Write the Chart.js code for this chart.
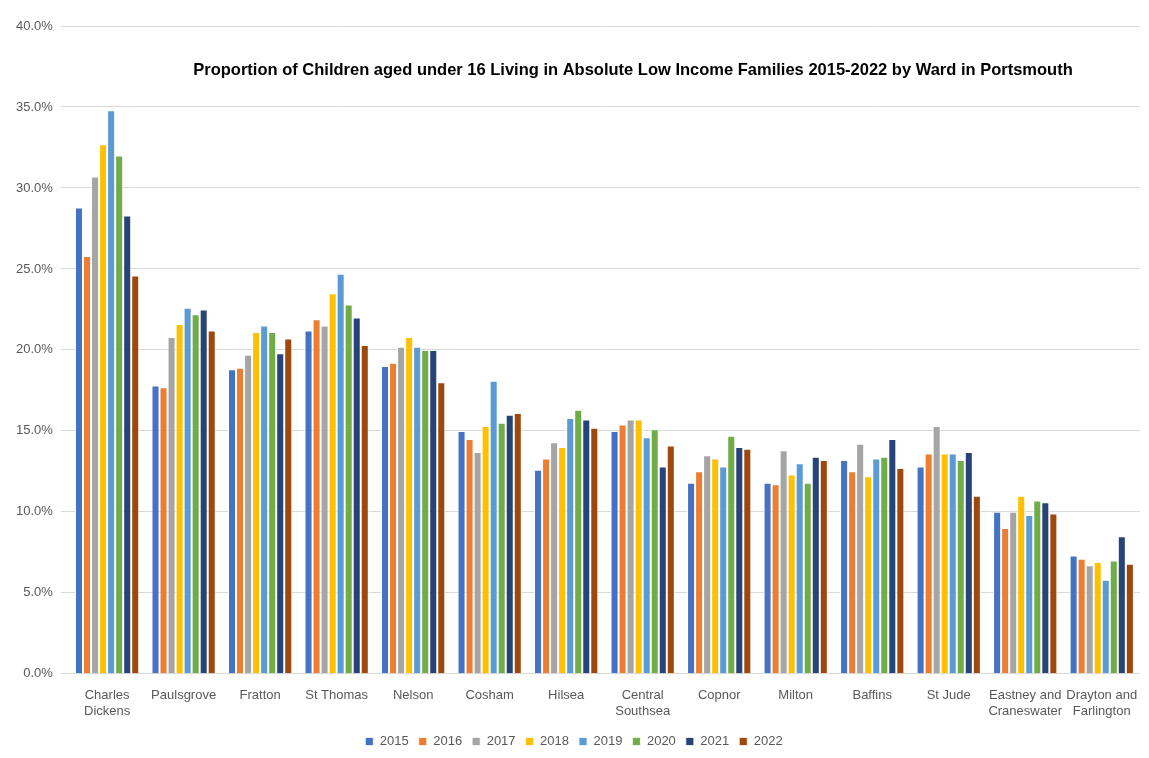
<!DOCTYPE html>
<html>
<head>
<meta charset="utf-8">
<script src="https://cdn.jsdelivr.net/npm/chart.js@4.4.0/dist/chart.umd.min.js"></script>
<style>
  html, body { margin: 0; padding: 0; background: #fff; }
  #wrap { position: relative; width: 1149px; height: 758px; }
</style>
</head>
<body>
<div id="wrap"><canvas id="chart"></canvas></div>
<script>
const wards = [
  ['Charles', 'Dickens'], 'Paulsgrove', 'Fratton', 'St Thomas', 'Nelson', 'Cosham', 'Hilsea',
  ['Central', 'Southsea'], 'Copnor', 'Milton', 'Baffins', 'St Jude',
  ['Eastney and', 'Craneswater'], ['Drayton and', 'Farlington']
];
const years = ['2015', '2016', '2017', '2018', '2019', '2020', '2021', '2022'];
const colors = ['#4472c4', '#ed7d31', '#a5a5a5', '#ffc000', '#5b9bd5', '#70ad47', '#264478', '#9e480e'];

// one array per ward, values in year order 2015..2022
const charlesDickens = [28.8, 25.8, 30.7, 32.7, 34.8, 32.0, 28.3, 24.6];
const paulsgrove     = [17.8, 17.7, 20.8, 21.6, 22.6, 22.2, 22.5, 21.2];
const fratton        = [18.8, 18.9, 19.7, 21.1, 21.5, 21.1, 19.8, 20.7];
const stThomas       = [21.2, 21.9, 21.5, 23.5, 24.7, 22.8, 22.0, 20.3];
const nelson         = [19.0, 19.2, 20.2, 20.8, 20.2, 20.0, 20.0, 18.0];
const cosham         = [15.0, 14.5, 13.7, 15.3, 18.1, 15.5, 16.0, 16.1];
const hilsea         = [12.6, 13.3, 14.3, 14.0, 15.8, 16.3, 15.7, 15.2];
const centralSouthsea= [15.0, 15.4, 15.7, 15.7, 14.6, 15.1, 12.8, 14.1];
const copnor         = [11.8, 12.5, 13.5, 13.3, 12.8, 14.7, 14.0, 13.9];
const milton         = [11.8, 11.7, 13.8, 12.3, 13.0, 11.8, 13.4, 13.2];
const baffins        = [13.2, 12.5, 14.2, 12.2, 13.3, 13.4, 14.5, 12.7];
const stJude         = [12.8, 13.6, 15.3, 13.6, 13.6, 13.2, 13.7, 11.0];
const eastney        = [10.0, 9.0, 10.0, 11.0, 9.8, 10.7, 10.6, 9.9];
const drayton        = [7.3, 7.1, 6.7, 6.9, 5.8, 7.0, 8.5, 6.8];

const wardValues = [charlesDickens, paulsgrove, fratton, stThomas, nelson, cosham, hilsea,
  centralSouthsea, copnor, milton, baffins, stJude, eastney, drayton];

const titleText = 'Proportion of Children aged under 16 Living in Absolute Low Income Families 2015-2022 by Ward in Portsmouth';

const datasets = years.map((y, i) => ({
  label: y,
  data: wardValues.map(w => w[i]),
  backgroundColor: colors[i],
  borderColor: '#ffffff',
  borderWidth: { left: 1, right: 1, top: 1, bottom: 0 },
  barPercentage: 1.0,
  categoryPercentage: 0.84,
}));

// the title sits inside the plot area, between the 40% and 35% lines
const titleInside = {
  id: 'titleInside',
  afterDraw(chart) {
    const { ctx } = chart;
    ctx.save();
    ctx.font = 'bold 16.5px "Liberation Sans", sans-serif';
    ctx.fillStyle = '#000';
    ctx.textAlign = 'center';
    ctx.textBaseline = 'middle';
    ctx.fillText(titleText, 633, 70);
    ctx.restore();
  }
};

const font = { family: '"Liberation Sans", sans-serif', size: 13 };

new Chart(document.getElementById('chart'), {
  type: 'bar',
  data: { labels: wards, datasets },
  plugins: [titleInside],
  options: {
    responsive: true,
    maintainAspectRatio: false,
    animation: false,
    layout: { padding: { left: 8, right: 9, top: 26, bottom: 0 } },
    plugins: {
      title: { display: false },
      tooltip: { enabled: false },
      legend: {
        position: 'bottom',
        labels: { boxWidth: 8, boxHeight: 8, color: '#595959', font, padding: 10 },
      },
    },
    scales: {
      x: {
        grid: { display: false },
        border: { display: false },
        ticks: { color: '#595959', font, maxRotation: 0, autoSkip: false, padding: 6 },
      },
      y: {
        min: 0,
        max: 40,
        ticks: { stepSize: 5, color: '#595959', font, padding: 8, callback: v => v.toFixed(1) + '%' },
        grid: { color: '#d9d9d9', lineWidth: 1 },
        border: { display: false },
      },
    },
  },
});
</script>
</body>
</html>
